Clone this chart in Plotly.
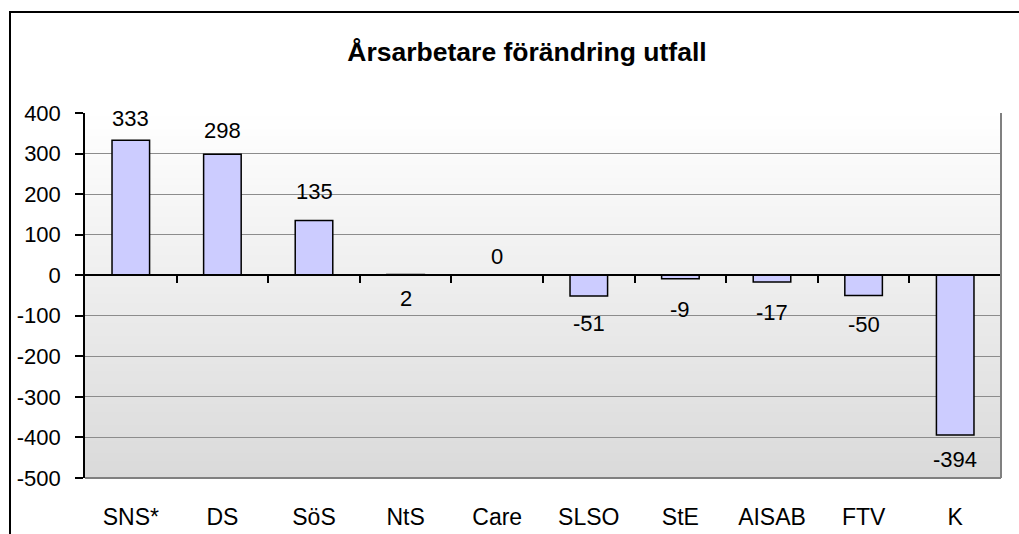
import plotly.graph_objects as go

# Data
categories = ["SNS*", "DS", "SöS", "NtS", "Care", "SLSO", "StE", "AISAB", "FTV", "K"]
values = [333, 298, 135, 2, 0, -51, -9, -17, -50, -394]
y_tickvals = [400, 300, 200, 100, 0, -100, -200, -300, -400, -500]
y_ticktext = ["400", "300", "200", "100", "0", "-100", "-200", "-300", "-400", "-500"]
boundary_ticks = [0.5, 1.5, 2.5, 3.5, 4.5, 5.5, 6.5, 7.5, 8.5]

# Label pixel offsets from each bar's end (positive = up)
label_shift = [22, 24, 29, -24, 19, -28, -31, -30, -29, -24]

W, H = 1019, 534
ML, MR, MT, MB = 85, 18, 113, 56
YMIN, YMAX = -500, 400
PW, PH = W - ML - MR, H - MT - MB

FONT = "Liberation Sans, Arial, sans-serif"


def px_to_paper_x(px):
    return (px - ML) / PW


def px_to_paper_y(py):
    return (H - MB - py) / PH


fig = go.Figure()
fig.add_trace(go.Bar(
    x=categories, y=values,
    marker=dict(color="#CCCCFF", line=dict(color="#000000", width=1.5)),
    width=0.41, hoverinfo="x+y", showlegend=False,
))

annotations = []
for c, v, s in zip(categories, values, label_shift):
    annotations.append(dict(
        x=c, y=v, xref="x", yref="y", text=str(v), showarrow=False,
        yanchor="middle", yshift=s, font=dict(family=FONT, size=22, color="#000"),
    ))

# Vertical gradient background of the plot area
shapes = []
n = 90
top = (255, 255, 255)
bot = (218, 218, 218)
for i in range(n):
    t = (i + 0.5) / n
    col = tuple(round(top[k] + (bot[k] - top[k]) * t) for k in range(3))
    shapes.append(dict(
        type="rect", xref="x domain", yref="y domain", x0=0, x1=1,
        y0=1 - (i + 1) / n, y1=1 - i / n + 0.002,
        fillcolor="rgb(%d,%d,%d)" % col, line=dict(width=0), layer="below",
    ))

# Plot-area frame: grey right and bottom edges
shapes.append(dict(type="line", xref="x domain", yref="y domain", x0=1, x1=1, y0=0, y1=1,
                   line=dict(color="#808080", width=2)))
shapes.append(dict(type="line", xref="x domain", yref="y domain", x0=0, x1=1, y0=0, y1=0,
                   line=dict(color="#808080", width=2)))

# Chart border (extends past the right and bottom edges of the page)
shapes.append(dict(type="rect", xref="paper", yref="paper",
                   x0=px_to_paper_x(10), x1=px_to_paper_x(W + 20),
                   y0=px_to_paper_y(H + 20), y1=px_to_paper_y(12),
                   line=dict(color="#000000", width=2), fillcolor="rgba(0,0,0,0)"))

zero_pos = (0 - YMIN) / (YMAX - YMIN)

fig.update_layout(
    width=W, height=H,
    margin=dict(l=ML, r=MR, t=MT, b=MB),
    paper_bgcolor="#FFFFFF", plot_bgcolor="rgba(0,0,0,0)",
    font=dict(family=FONT, size=22, color="#000"),
    title=dict(
        text="<b>Årsarbetare förändring utfall</b>",
        xref="container", yref="container", x=527 / W, y=1 - 52 / H,
        xanchor="center", yanchor="middle",
        font=dict(family=FONT, size=26.5, color="#000"),
    ),
    xaxis=dict(
        type="category", categoryarray=categories, range=[-0.5, 9.5],
        showgrid=False, zeroline=False, showline=False, ticks="",
        automargin=False,
        ticklabelstandoff=23, tickfont=dict(family=FONT, size=23, color="#000"),
    ),
    xaxis2=dict(
        overlaying="x", anchor="free", position=zero_pos, range=[-0.5, 9.5],
        tickvals=boundary_ticks, showticklabels=False, ticks="outside",
        ticklen=7, tickwidth=1.5, tickcolor="#000", automargin=False,
        showline=True, linecolor="#000", linewidth=1.5, showgrid=False, zeroline=False,
    ),
    yaxis=dict(
        range=[YMIN, YMAX], tickvals=y_tickvals, ticktext=y_ticktext,
        showgrid=True, gridcolor="#8C8C8C", gridwidth=1, automargin=False,
        zeroline=False, showline=True, linecolor="#000", linewidth=1.5,
        ticks="outside", ticklen=8, tickwidth=1.5, tickcolor="#000",
        ticklabelstandoff=10,
        tickfont=dict(family=FONT, size=22, color="#000"),
    ),
    annotations=annotations, shapes=shapes, bargap=0.59,
)

# Invisible trace to activate the zero-line axis
fig.add_trace(go.Scatter(x=[-0.5, 9.5], y=[0, 0], xaxis="x2", mode="lines",
                         line=dict(width=0), hoverinfo="skip", showlegend=False))

fig.write_html("out.html")
